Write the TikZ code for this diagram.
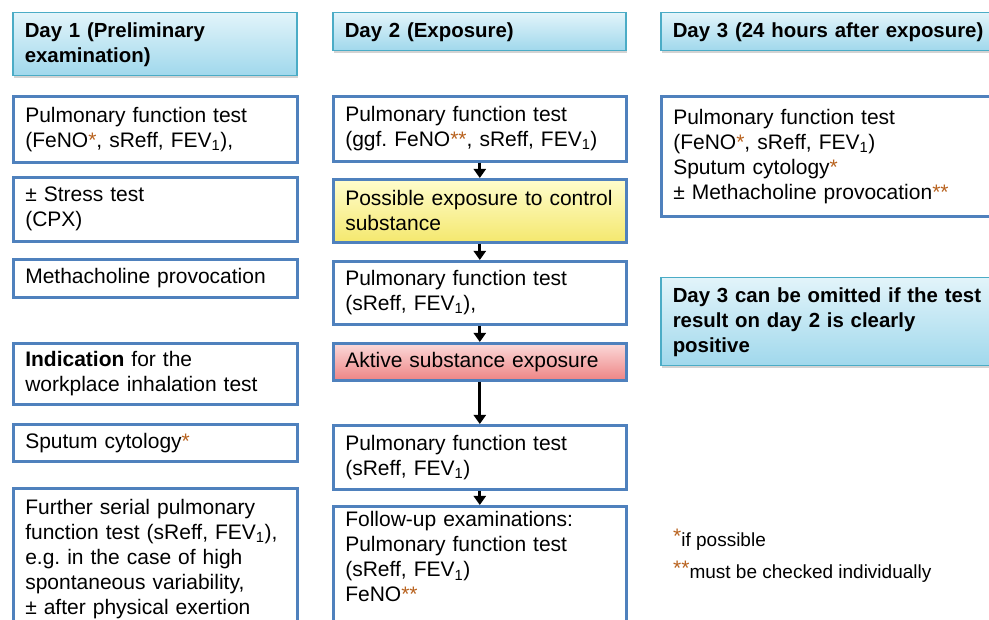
\documentclass[tikz,border=0pt]{standalone}
\usepackage{fontspec}
\setmainfont{Liberation Sans}
\usetikzlibrary{shadows,arrows.meta}
\definecolor{boxblue}{RGB}{79,129,189}
\definecolor{hdrborder}{RGB}{75,172,198}
\definecolor{hdrtop}{RGB}{226,244,250}
\definecolor{hdrbot}{RGB}{160,216,236}
\definecolor{ytop}{RGB}{255,253,205}
\definecolor{ybot}{RGB}{244,232,110}
\definecolor{rtop}{RGB}{251,218,218}
\definecolor{rbot}{RGB}{238,132,132}
\definecolor{starcol}{RGB}{184,98,30}
\newcommand{\onestar}{\textcolor{starcol}{*}}
\newcommand{\twostar}{\textcolor{starcol}{**}}
\newcommand{\sbone}{\textsubscript{1}}
\frenchspacing
\begin{document}
\begin{tikzpicture}[x=1pt,y=-1pt,
  font=\fontsize{21}{25}\selectfont,
  box/.style={draw=boxblue, line width=2.6pt, fill=white, align=left,
    inner xsep=12pt, inner ysep=0pt, anchor=north west},
  hdr/.style={draw=hdrborder, line width=1.5pt, top color=hdrtop, bottom color=hdrbot,
    font=\fontsize{20.4}{25}\selectfont\bfseries, align=left,
    inner xsep=12pt, inner ysep=0pt, anchor=north west,
    drop shadow={shadow xshift=1pt, shadow yshift=-2.5pt, opacity=0.35}},
  ybox/.style={box, top color=ytop, bottom color=ybot},
  rbox/.style={box, top color=rtop, bottom color=rbot},
  colA/.style={minimum width=284pt, text width=260pt},
  colB/.style={minimum width=293pt, text width=269pt},
  colC/.style={minimum width=345pt, text width=321pt},
  arr/.style={draw=black, line width=3pt, -{Triangle[length=9pt,width=12pt]}},
  foot/.style={font=\fontsize{19}{23}\selectfont, inner sep=0pt, anchor=base west}
]
\useasboundingbox (0,0) rectangle (989,620);
\clip (0,0) rectangle (989,620);

% Column 1
\node[hdr, colA, minimum height=63pt] (h1) at (12,12) {Day 1 (Preliminary\\examination)};
\node[box, colA, minimum height=66pt] (a1) at (12,95) {Pulmonary function test\\(FeNO\onestar, sReff, FEV\sbone),};
\node[box, colA, minimum height=64pt] (a2) at (12,176) {± Stress test\\(CPX)};
\node[box, colA, minimum height=38pt] (a3) at (12,258) {Methacholine provocation};
\node[box, colA, minimum height=61pt] (a4) at (12,342) {\textbf{Indication} for the\\workplace inhalation test};
\node[box, colA, minimum height=37pt] (a5) at (12,423) {Sputum cytology\onestar};
\node[box, colA, minimum height=142pt] (a6) at (12,487) {Further serial pulmonary\\function test (sReff, FEV\sbone),\\e.g. in the case of high\\spontaneous variability,\\± after physical exertion};

% Column 2
\node[hdr, colB, minimum height=38pt] (h2) at (332,12) {Day 2 (Exposure)};
\node[box, colB, minimum height=65pt] (b1) at (332,95) {Pulmonary function test\\(ggf. FeNO\twostar, sReff, FEV\sbone)};
\node[ybox, colB, minimum height=63pt] (b2) at (332,178) {Possible exposure to control\\substance};
\node[box, colB, minimum height=63pt] (b3) at (332,260) {Pulmonary function test\\(sReff, FEV\sbone),};
\node[rbox, colB, minimum height=37pt] (b4) at (332,342) {Aktive substance exposure};
\node[box, colB, minimum height=64pt] (b5) at (332,424) {Pulmonary function test\\(sReff, FEV\sbone)};
\node[box, colB, minimum height=126pt] (b6) at (332,505) {Follow-up examinations:\\Pulmonary function test\\(sReff, FEV\sbone)\\FeNO\twostar\\\mbox{}};

\draw[arr] (b1.south) -- (b2.north);
\draw[arr] (b2.south) -- (b3.north);
\draw[arr] (b3.south) -- (b4.north);
\draw[arr] (b4.south) -- (b5.north);
\draw[arr] (b5.south) -- (b6.north);

% Column 3
\node[hdr, colC, minimum height=38pt] (h3) at (660,12) {Day 3 (24 hours after exposure)};
\node[box, colC, minimum height=120pt] (c1) at (660,95) {Pulmonary function test\\(FeNO\onestar, sReff, FEV\sbone)\\Sputum cytology\onestar\\± Methacholine provocation\twostar};
\node[hdr, colC, minimum height=88pt] (c2) at (660,277) {Day 3 can be omitted if the test\\result on day 2 is clearly\\positive};

\node[foot] (f1) at (673,547) {\raisebox{3pt}{\fontsize{21}{23}\selectfont\onestar}if possible};
\node[foot] (f2) at (673,578) {\raisebox{3pt}{\fontsize{21}{23}\selectfont\twostar}must be checked individually};
\end{tikzpicture}
\end{document}
